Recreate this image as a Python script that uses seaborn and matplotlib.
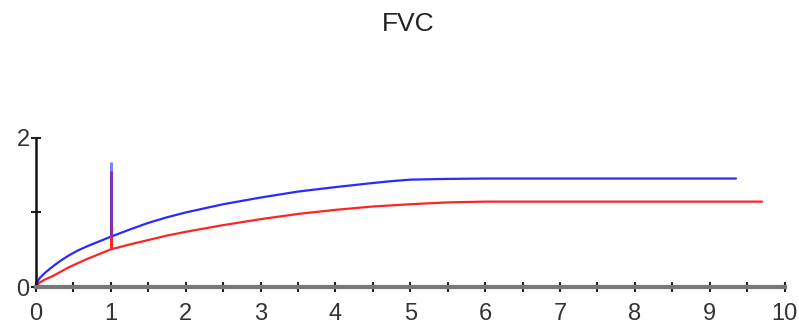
import pandas as pd
import matplotlib.pyplot as plt
import seaborn as sns

# values
blue_x = [0, 0.02, 0.05, 0.12, 0.23, 0.34, 0.45, 0.56, 0.68, 0.84, 1, 1.25, 1.5, 1.75, 2, 2.5, 3, 3.5, 4, 4.5, 4.75, 5, 5.5, 6, 7, 8, 9, 9.35]
blue_y = [0, 0.07, 0.12, 0.19, 0.28, 0.36, 0.43, 0.49, 0.545, 0.61, 0.675, 0.77, 0.86, 0.935, 1.0, 1.11, 1.2, 1.28, 1.34, 1.395, 1.42, 1.44, 1.45, 1.455, 1.455, 1.455, 1.455, 1.455]
red_x = [0, 0.02, 0.05, 0.12, 0.23, 0.34, 0.45, 0.56, 0.68, 0.84, 1, 1.25, 1.5, 1.75, 2, 2.5, 3, 3.5, 4, 4.5, 5, 5.5, 6, 7, 8, 9, 9.7]
red_y = [0, 0.03, 0.06, 0.1, 0.15, 0.21, 0.27, 0.32, 0.375, 0.44, 0.505, 0.57, 0.63, 0.69, 0.74, 0.83, 0.91, 0.98, 1.035, 1.08, 1.11, 1.135, 1.145, 1.145, 1.145, 1.145, 1.145]

# vertical markers at t = 1
blue_mark = [0.675, 1.68]
red_mark = [0.505, 1.55]

sns.set_style("white")
plt.rcParams["font.family"] = ["Liberation Sans", "DejaVu Sans"]

fig = plt.figure(figsize=(7.99, 3.26), dpi=100)
ax = fig.add_axes([0.045, 0.1196, 0.937, 0.4574])

blue = pd.DataFrame({"t": blue_x, "v": blue_y})
red = pd.DataFrame({"t": red_x, "v": red_y})
sns.lineplot(data=red, x="t", y="v", color="#ff2424", linewidth=1.6, ax=ax)
sns.lineplot(data=blue, x="t", y="v", color="#2a2aff", linewidth=1.6, ax=ax)
ax.vlines(1, red_mark[0], red_mark[1], color="#ff2424", linewidth=2.2)
ax.vlines(1, blue_mark[0], blue_mark[1], color="#3a3aff", linewidth=2.2, alpha=0.65)

ax.set_xlim(0, 10)
ax.set_ylim(0, 2)
ax.set_xticks(range(0, 11))
ax.set_xticks([i + 0.5 for i in range(10)], minor=True)
ax.set_yticks([0, 2])
ax.set_yticks([1], minor=True)
ax.tick_params(which="both", direction="inout", length=7, width=1.5, color="#222222",
               labelsize=17, labelcolor="#333333", left=True, bottom=True)
ax.tick_params(axis="x", pad=8)
ax.tick_params(axis="y", pad=1)
ax.set_xlabel("")
ax.set_ylabel("")

for s in ["top", "right"]:
    ax.spines[s].set_visible(False)
ax.spines["left"].set_color("#111111")
ax.spines["left"].set_linewidth(1.8)
ax.spines["bottom"].set_color("#777777")
ax.spines["bottom"].set_linewidth(3)

fig.text(0.511, 0.925, "FVC", ha="center", va="center", fontsize=19, color="#222222")

fig.savefig("out.png", dpi=100)
